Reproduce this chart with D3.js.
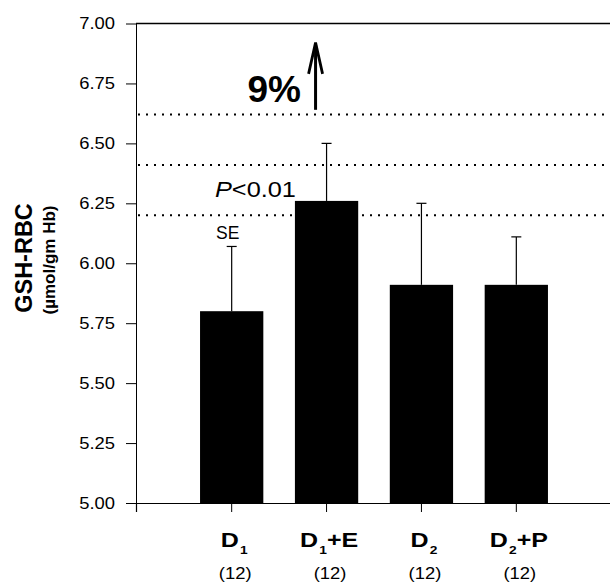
<!DOCTYPE html>
<html lang="en">
<head>
  <meta charset="UTF-8">
  <title>GSH-RBC by group</title>
  <script src="https://d3js.org/d3.v7.min.js"></script>
  <style>
    body { margin: 0; background: #fff; font-family: Arial, "Liberation Sans", sans-serif; }
    svg { display: block; }
  </style>
</head>
<body>
  <svg width="610" height="584"></svg>

  <script>
    // groups: base letter, subscript, suffix
    const groupNames = ["D1", "D1+E", "D2", "D2+P"];
    const groupBase = ["D", "D", "D", "D"];
    const groupSub = ["1", "1", "2", "2"];
    const groupTail = ["", "+E", "", "+P"];
    const groupN = [12, 12, 12, 12];

    // GSH-RBC means and SE (umol/gm Hb)
    const means = [5.80, 6.26, 5.91, 5.91];
    const seVals = [0.27, 0.24, 0.34, 0.20];

    // dotted reference lines
    const refLines = [6.20, 6.41, 6.62];

    const yTicks = [5.00, 5.25, 5.50, 5.75, 6.00, 6.25, 6.50, 6.75, 7.00];

    const FONT = "Arial, 'Liberation Sans', sans-serif";
    const stretch = 1.15; // scanned lettering is a bit wide

    const svg = d3.select("svg");

    const x = d3.scaleBand()
      .domain(groupNames)
      .range([136, 612])
      .paddingInner(0.333)
      .paddingOuter(0.675);

    const y = d3.scaleLinear()
      .domain([5, 7])
      .range([503, 23.5]);

    const mid = d => x(d) + x.bandwidth() / 2;

    // dotted lines
    svg.append("g")
      .selectAll("line")
      .data(refLines)
      .join("line")
        .attr("x1", 138)
        .attr("x2", 606)
        .attr("y1", d => y(d))
        .attr("y2", d => y(d))
        .attr("stroke", "#000")
        .attr("stroke-width", 2)
        .attr("stroke-dasharray", "2,6");

    // bars
    svg.append("g")
      .selectAll("rect")
      .data(means)
      .join("rect")
        .attr("x", (d, i) => x(groupNames[i]))
        .attr("y", d => y(d))
        .attr("width", x.bandwidth())
        .attr("height", d => y(5) - y(d))
        .attr("fill", "#000");

    // error bars (upper only)
    const err = svg.append("g")
      .attr("stroke", "#000")
      .attr("stroke-width", 1.2);

    err.selectAll(".stem")
      .data(means)
      .join("line")
        .attr("class", "stem")
        .attr("x1", (d, i) => mid(groupNames[i]))
        .attr("x2", (d, i) => mid(groupNames[i]))
        .attr("y1", d => y(d))
        .attr("y2", (d, i) => y(d + seVals[i]));

    err.selectAll(".cap")
      .data(means)
      .join("line")
        .attr("class", "cap")
        .attr("x1", (d, i) => mid(groupNames[i]) - 5)
        .attr("x2", (d, i) => mid(groupNames[i]) + 5)
        .attr("y1", (d, i) => y(d + seVals[i]))
        .attr("y2", (d, i) => y(d + seVals[i]));

    // y axis
    const yAxis = svg.append("g")
      .attr("transform", "translate(136,0)")
      .call(d3.axisLeft(y)
        .tickValues(yTicks)
        .tickSize(10)
        .tickSizeOuter(0)
        .tickPadding(11)
        .tickFormat(d3.format(".2f")));
    yAxis.selectAll("text")
      .attr("font-family", FONT)
      .attr("font-size", 16)
      .attr("fill", "#000")
      .attr("x", -21 / stretch)
      .attr("transform", `scale(${stretch},1)`);
    yAxis.select(".domain").attr("stroke", "#000");

    // x axis
    const xAxis = svg.append("g")
      .attr("transform", `translate(0,${y(5)})`)
      .call(d3.axisBottom(x)
        .tickSize(9)
        .tickSizeOuter(9)
        .tickFormat(""));
    xAxis.select(".domain").attr("stroke", "#000").attr("stroke-width", 1.2);

    // top frame line
    svg.append("line")
      .attr("x1", 136).attr("x2", 610)
      .attr("y1", y(7)).attr("y2", y(7))
      .attr("stroke", "#000")
      .attr("stroke-width", 1.5);

    // group labels
    const lab = svg.append("g")
      .attr("font-family", FONT)
      .attr("font-weight", "bold")
      .attr("text-anchor", "middle")
      .selectAll("text")
      .data(groupNames)
      .join("text")
        .attr("transform", d => `translate(${mid(d) + 2.5},546.5) scale(1.25,1)`)
        .attr("font-size", 20);
    lab.append("tspan").text((d, i) => groupBase[i]);
    lab.append("tspan")
      .attr("font-size", 11)
      .attr("dx", 1)
      .attr("dy", 7.5)
      .text((d, i) => groupSub[i]);
    lab.append("tspan")
      .attr("dy", -7.5)
      .text((d, i) => groupTail[i]);

    svg.append("g")
      .attr("font-family", FONT)
      .attr("text-anchor", "middle")
      .attr("font-size", 16)
      .selectAll("text")
      .data(groupNames)
      .join("text")
        .attr("transform", d => `translate(${mid(d) + 3.5},578.5) scale(${stretch},1)`)
        .text((d, i) => `(${groupN[i]})`);

    // y title
    svg.append("text")
      .attr("transform", "translate(32,258) rotate(-90)")
      .attr("text-anchor", "middle")
      .attr("font-family", FONT)
      .attr("font-weight", "bold")
      .attr("font-size", 23.5)
      .text("GSH-RBC");
    svg.append("text")
      .attr("transform", "translate(55,260) rotate(-90)")
      .attr("text-anchor", "middle")
      .attr("font-family", FONT)
      .attr("font-weight", "bold")
      .attr("font-size", 17)
      .text("(\u00b5mol/gm Hb)");

    // annotations
    const cx2 = mid("D1+E");

    svg.append("text")
      .attr("x", mid("D1") - 4)
      .attr("y", 239)
      .attr("text-anchor", "middle")
      .attr("font-family", FONT)
      .attr("font-size", 17.5)
      .text("SE");

    const pText = svg.append("text")
      .attr("transform", `translate(215,${y(6.28) + 1}) scale(${stretch},1)`)
      .attr("font-family", FONT)
      .attr("font-size", 22);
    pText.append("tspan").attr("font-style", "italic").text("P");
    pText.append("tspan").text("<0.01");

    svg.append("text")
      .attr("x", 301)
      .attr("y", 102)
      .attr("text-anchor", "end")
      .attr("font-family", FONT)
      .attr("font-weight", "bold")
      .attr("font-size", 37)
      .text("9%");

    // up arrow
    const ax = cx2 - 11;
    svg.append("line")
      .attr("x1", ax).attr("x2", ax)
      .attr("y1", y(6.64)).attr("y2", y(6.91))
      .attr("stroke", "#000")
      .attr("stroke-width", 3);
    svg.append("path")
      .attr("d", `M${ax - 7},${y(6.79)} L${ax},${y(6.92)} L${ax + 7},${y(6.79)}`)
      .attr("fill", "none")
      .attr("stroke", "#000")
      .attr("stroke-width", 2.8);
  </script>
</body>
</html>
